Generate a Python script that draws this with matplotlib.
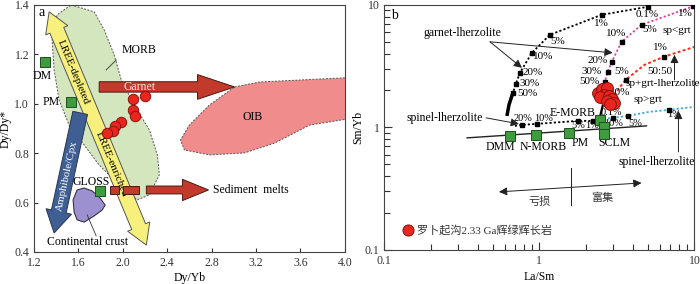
import numpy as np
import matplotlib
matplotlib.use('Agg')
import matplotlib.pyplot as plt
from matplotlib.patches import Polygon, FancyArrow
from matplotlib.ticker import NullFormatter

plt.rcParams['font.family'] = ['Liberation Serif', 'Noto Sans CJK SC']
plt.rcParams['font.size'] = 8.5
plt.rcParams['axes.linewidth'] = 0.8
plt.rcParams['axes.edgecolor'] = '#444444'

# ---------------- panel a data (Dy/Yb vs Dy/Dy*) ----------------
morb_x = [1.534, 1.742, 1.832, 1.922, 1.986, 2.103, 2.239, 2.311, 2.329, 2.239, 2.130,
          2.013, 1.787, 1.652, 1.516, 1.426, 1.381, 1.363, 1.408]
morb_y = [1.400, 1.372, 1.299, 1.198, 1.096, 0.995, 0.894, 0.793, 0.712, 0.631, 0.611,
          0.651, 0.752, 0.833, 0.914, 1.015, 1.137, 1.258, 1.360]
oib_x = [3.007, 3.233, 3.594, 4.05, 4.05, 3.684, 3.368, 3.097, 2.781, 2.555, 2.519, 2.600, 2.781]
oib_y = [1.068, 1.088, 1.096, 1.106, 0.940, 0.914, 0.841, 0.801, 0.793, 0.813, 0.853, 0.914, 0.995]
crust_x = [1.588, 1.652, 1.724, 1.787, 1.841, 1.814, 1.742, 1.652, 1.588, 1.561, 1.552]
crust_y = [0.651, 0.659, 0.647, 0.623, 0.590, 0.570, 0.546, 0.521, 0.530, 0.562, 0.611]

samp_a_x = [2.203, 2.094, 2.094, 2.112, 1.986, 1.932, 1.914, 1.859]
samp_a_y = [1.032, 1.019, 0.975, 0.951, 0.926, 0.910, 0.890, 0.882]

ref_a_names = ['DM', 'PM', 'GLOSS']
ref_a_x = [1.299, 1.534, 1.796]
ref_a_y = [1.169, 1.007, 0.647]

sed_x0 = [1.887, 2.004, 2.212]
sed_x1 = [1.968, 2.149, 2.537]
sed_y = 0.651

# ---------------- panel b data (La/Sm vs Sm/Yb) ----------------
grt_x = [0.618, 0.637, 0.675, 0.706, 0.749, 0.895, 1.168, 2.52, 4.99]
grt_y = [1.241, 1.527, 1.913, 2.265, 2.786, 4.056, 5.69, 8.29, 9.63]
grt_lab = ['50%', '30%', '20%', '10%', '5%', '1%', '0.1%']
grt_lab_x = [0.844, 0.869, 0.909, 1.053, 1.315, 2.52, 4.99]
grt_lab_y = [1.877, 2.265, 2.786, 3.763, 4.99, 7.0, 8.29]

sp_x = [0.696, 0.772, 0.964, 1.769, 2.208, 2.449]
sp_y = [1.028, 1.048, 1.068, 1.130, 1.130, 1.151]
sp_lab = ['20%', '10%', '5%', '1%']
sp_lab_x = [0.78, 1.06, 1.79, 2.19]
sp_lab_y = [1.173, 1.173, 1.045, 1.045]

pink_x = [2.56, 2.64, 2.76, 2.93, 3.39, 4.56, 9.8]
pink_y = [2.10, 2.35, 2.84, 3.43, 4.99, 6.87, 9.7]
pink_lab = ['50%', '30%', '20%', '10%', '5%', '1%']
pink_lab_x = [2.113, 2.176, 2.378, 3.15, 5.14, 8.75]
pink_lab_y = [2.35, 2.84, 3.49, 5.80, 6.25, 8.45]

red_x = [2.93, 3.20, 3.60, 4.77, 6.32, 10.0]
red_y = [1.677, 2.02, 2.44, 3.24, 3.76, 4.54]
red_sq = [2, 4]
red_lab = ['10%', '5%', '1%']
red_lab_x = [3.34, 3.39, 6.04]
red_lab_y = [1.912, 2.84, 4.46]

blue_x = [2.60, 2.97, 3.71, 5.14, 6.90, 10.0]
blue_y = [1.17, 1.196, 1.24, 1.34, 1.39, 1.47]
blue_sq = [1, 2, 4]
blue_lab = ['0.1%', '10%', '5%', '1%']
blue_lab_x = [2.90, 3.00, 4.15, 7.44]
blue_lab_y = [1.313, 1.085, 1.085, 1.265]

samp_b_x = [2.378, 2.523, 2.718, 2.599, 2.449, 2.799, 2.926, 2.718, 3.014, 2.841]
samp_b_y = [1.912, 2.062, 2.101, 1.842, 1.774, 1.807, 1.709, 1.646, 1.585, 1.555]

ref_b_x = [0.646, 0.949, 1.549, 2.449, 2.60, 2.60]
ref_b_y = [0.852, 0.869, 0.902, 1.151, 1.009, 0.885]
ref_b_names = ['DMM', 'N-MORB', 'PM', 'E-MORB', 'SCLM']
ref_b_lx = [0.557, 1.053, 1.822, 1.642, 3.06]
ref_b_ly = [0.693, 0.693, 0.747, 1.313, 0.747]

array_x = [0.342, 4.91]
array_y = [0.821, 1.028]

GREEN = '#3e9b3e'
REDC = '#e8261e'
ARROW_RED = '#c23a2b'


def fat_arrow(ax, p0, p1, shaft, head_w, head_l, both=False, **kw):
    # arrow polygon built in pixel space, then mapped back to data
    T = ax.transData
    a = np.array(T.transform(p0))
    b = np.array(T.transform(p1))
    u = (b - a) / np.hypot(*(b - a))
    n = np.array([-u[1], u[0]])
    s, h = shaft / 2, head_w / 2
    pts = []
    if both:
        pts += [a, a + u * head_l + n * h, a + u * head_l + n * s]
    else:
        pts += [a + n * s]
    pts += [b - u * head_l + n * s, b - u * head_l + n * h, b,
            b - u * head_l - n * h, b - u * head_l - n * s]
    if both:
        pts += [a + u * head_l - n * s, a + u * head_l - n * h]
    else:
        pts += [a - n * s]
    pts = T.inverted().transform(np.array(pts))
    ax.add_patch(Polygon(pts, closed=True, **kw))


fig = plt.figure(figsize=(7, 2.84), dpi=100)

# ================= panel a =================
ax = fig.add_axes([0.0486, 0.1127, 0.444, 0.870])
ax.set_xlim(1.2, 4.0)
ax.set_ylim(0.4, 1.4)
ax.set_xticks([1.2, 1.6, 2.0, 2.4, 2.8, 3.2, 3.6, 4.0])
ax.set_yticks([0.4, 0.6, 0.8, 1.0, 1.2, 1.4])
ax.set_xticklabels(['1.2', '1.6', '2.0', '2.4', '2.8', '3.2', '3.6', '4.0'])
ax.set_yticklabels(['0.4', '0.6', '0.8', '1.0', '1.2', '1.4'])
ax.tick_params(direction='in', length=3, width=0.8, labelsize=8.5, colors='#333333')
ax.set_xlabel('Dy/Yb', fontsize=8.5, labelpad=2)
ax.set_ylabel('Dy/Dy*', fontsize=8.5, labelpad=2)

ax.add_patch(Polygon(np.column_stack([morb_x, morb_y]), closed=True, fc='#d3e6bd',
                     ec='#555555', lw=0.7, ls=(0, (2, 1.5)), zorder=1))
ax.add_patch(Polygon(np.column_stack([oib_x, oib_y]), closed=True, fc='#f08c8c',
                     ec='#555555', lw=0.7, ls=(0, (2, 1.5)), zorder=1))
ax.add_patch(Polygon(np.column_stack([crust_x, crust_y]), closed=True, fc='#9d90d0',
                     ec='#333344', lw=0.8, zorder=2, joinstyle='round'))

# yellow double arrow and blue arrow
fat_arrow(ax, (1.336, 1.372), (2.212, 0.428), 15, 24, 20, both=True,
          fc='#f7f07c', ec='#555555', lw=0.7, zorder=3)
fat_arrow(ax, (1.616, 0.963), (1.381, 0.477), 15, 26, 22,
          fc='#3f5e93', ec='#2a3550', lw=0.7, zorder=3)
ax.text(1.552, 1.129, 'LREE-depleted', rotation=-67.4, ha='center', va='center',
        fontsize=8, zorder=4)
ax.text(1.896, 0.756, 'LREE-enriched', rotation=-67.4, ha='center', va='center',
        fontsize=8, zorder=4)
ax.text(1.498, 0.708, 'Amphibole/Cpx', rotation=77.8, ha='center', va='center',
        fontsize=8, color='white', zorder=4)

# garnet arrow
ax.add_patch(FancyArrow(1.787, 1.068, 3.007 - 1.787, 0, width=0.042, head_width=0.10,
                        head_length=0.334, length_includes_head=True,
                        fc=ARROW_RED, ec='#4a1810', lw=0.7, zorder=3))
ax.text(2.149, 1.068, 'Garnet', color='#ffe0e0', ha='center', va='center',
        fontsize=8.5, zorder=4)

# sediment melts arrow made of dashed blocks
for x0, x1 in zip(sed_x0, sed_x1):
    if x1 == sed_x1[-1]:
        ax.add_patch(FancyArrow(x0, sed_y, 2.772 - x0, 0, width=0.032, head_width=0.086,
                                head_length=0.235, length_includes_head=True,
                                fc=ARROW_RED, ec='#4a1810', lw=0.7, zorder=5))
    else:
        ax.add_patch(Polygon([[x0, sed_y - 0.016], [x1, sed_y - 0.016],
                              [x1, sed_y + 0.016], [x0, sed_y + 0.016]], closed=True,
                             fc=ARROW_RED, ec='#4a1810', lw=0.7, zorder=5))
ax.text(2.81, 0.651, 'Sediment  melts', ha='left', va='center', fontsize=8.5)

ax.plot(ref_a_x, ref_a_y, 's', ms=7, mfc=GREEN, mec='#1f4f1f', mew=0.7, zorder=6)
ax.text(1.272, 1.113, 'DM', ha='center', va='center')
ax.text(1.354, 1.007, 'PM', ha='center', va='center')
ax.text(1.715, 0.683, 'GLOSS', ha='center', va='center')

ax.plot(samp_a_x, samp_a_y, 'o', ms=7.5, mfc=REDC, mec='#8a1010', mew=0.7, zorder=7)

ax.text(2.149, 1.218, 'MORB', ha='center', va='center')
ax.plot([1.941, 1.850], [1.177, 1.137], color='#333333', lw=0.6, zorder=4)
ax.text(3.17, 0.946, 'OIB', ha='center', va='center')
ax.text(1.68, 0.4405, 'Continental crust', ha='center', va='center')
ax.plot([1.760, 1.679], [0.465, 0.550], color='#333333', lw=0.6, zorder=4)
ax.text(1.272, 1.368, 'a', ha='center', va='center', fontsize=10)

# ================= panel b =================
bx = fig.add_axes([0.549, 0.120, 0.443, 0.863])
bx.set_xscale('log')
bx.set_yscale('log')
bx.set_xlim(0.1, 10)
bx.set_ylim(0.1, 10)
bx.set_xticks([0.1, 1, 10])
bx.set_xticklabels(['0.1', '1', '10'])
bx.set_yticks([0.1, 1, 10])
bx.set_yticklabels(['0.1', '1', '10'])
bx.xaxis.set_minor_formatter(NullFormatter())
bx.yaxis.set_minor_formatter(NullFormatter())
bx.tick_params(which='both', direction='in', width=0.8, labelsize=8.5, colors='#333333')
bx.tick_params(which='major', length=6)
bx.tick_params(which='minor', length=4)
bx.set_xlabel('La/Sm', fontsize=8.5, labelpad=3)
bx.set_ylabel('Sm/Yb', fontsize=8.5, labelpad=0)

bx.plot(array_x, array_y, color='#222222', lw=1.0, zorder=2)

# melting curves
bx.plot(grt_x[:3], grt_y[:3], color='black', lw=2.5, zorder=3, solid_capstyle='butt')
bx.plot(grt_x, grt_y, color='black', lw=1.3, ls=(0, (1.2, 1.2)), zorder=3)
bx.plot(grt_x[2:], grt_y[2:], 's', color='black', ms=3, zorder=3)
for t, x, y in zip(grt_lab, grt_lab_x, grt_lab_y):
    bx.text(x, y, t, ha='center', va='center', fontsize=8)

bx.plot(sp_x, sp_y, color='black', lw=1.3, ls=(0, (1.2, 1.2)), zorder=3)
bx.plot(sp_x[1:5], sp_y[1:5], 's', color='black', ms=3, zorder=3)
for t, x, y in zip(sp_lab, sp_lab_x, sp_lab_y):
    bx.text(x, y, t, ha='center', va='center', fontsize=7.5)

bx.plot(pink_x, pink_y, color='#e23fa6', lw=1.3, ls=(0, (1.2, 1.2)), zorder=3)
bx.plot(pink_x[1:], pink_y[1:], 's', color='black', ms=3, zorder=3)
for t, x, y in zip(pink_lab, pink_lab_x, pink_lab_y):
    bx.text(x, y, t, ha='center', va='center', fontsize=8)
bx.text(7.66, 6.13, 'sp<grt', ha='center', va='center', fontsize=8)

bx.plot(red_x, red_y, color='#ff2a1a', lw=1.4, ls=(0, (1.5, 1.2)), zorder=3)
bx.plot([red_x[i] for i in red_sq], [red_y[i] for i in red_sq], 's', color='black',
        ms=3, zorder=3)
for t, x, y in zip(red_lab, red_lab_x, red_lab_y):
    bx.text(x, y, t, ha='center', va='center', fontsize=8)
bx.text(5.96, 2.84, '50:50', ha='center', va='center', fontsize=8)
bx.text(6.23, 2.265, 'sp+grt-lherzolite', ha='center', va='center', fontsize=8)
bx.text(4.99, 1.677, 'sp>grt', ha='center', va='center', fontsize=8)

bx.plot(blue_x, blue_y, color='#3aaae2', lw=1.3, ls=(0, (1.2, 1.2)), zorder=3)
bx.plot([blue_x[i] for i in blue_sq], [blue_y[i] for i in blue_sq], 's', color='black',
        ms=3, zorder=3)
for t, x, y in zip(blue_lab, blue_lab_x, blue_lab_y):
    bx.text(x, y, t, ha='center', va='center', fontsize=7.5)

# short solid link between E-MORB and the sample cluster
bx.plot([2.449, 2.60], [1.19, 1.62], color='black', lw=1.6, zorder=3)

bx.plot(ref_b_x, ref_b_y, 's', ms=7, mfc=GREEN, mec='#1f4f1f', mew=0.7, zorder=5)
for t, x, y in zip(ref_b_names, ref_b_lx, ref_b_ly):
    bx.text(x, y, t, ha='center', va='center', fontsize=8.5)

bx.plot(samp_b_x, samp_b_y, 'o', ms=8.5, mfc=REDC, mec='#8a1010', mew=0.7, zorder=6)

# labels with pointer arrows
ap = dict(arrowstyle='-|>', color='#222222', lw=0.7, mutation_scale=12, shrinkA=0, shrinkB=0)
bx.text(0.3174, 5.91, 'garnet-lherzolite', ha='center', va='center', fontsize=8.5)
bx.annotate('', xy=(0.772, 3.06), xytext=(0.4805, 4.99), arrowprops=ap)
bx.annotate('', xy=(2.97, 4.06), xytext=(0.4805, 4.99), arrowprops=ap)
bx.text(0.2468, 1.196, 'spinel-lherzolite', ha='center', va='center', fontsize=8.5)
bx.annotate('', xy=(0.738, 1.068), xytext=(0.453, 1.196), arrowprops=ap)
bx.annotate('', xy=(7.44, 3.91), xytext=(7.44, 2.44), arrowprops=ap)
bx.text(5.69, 0.523, 'spinel-lherzolite', ha='center', va='center', fontsize=8.5)
bx.annotate('', xy=(7.89, 1.364), xytext=(7.89, 0.631), arrowprops=ap)

# depleted / enriched arrow
bx.annotate('', xy=(0.549, 0.2976), xytext=(4.56, 0.352),
            arrowprops=dict(arrowstyle='<|-|>', color='#222222', lw=0.7,
                            mutation_scale=12, shrinkA=0, shrinkB=0))
bx.plot([1.595, 1.595], [0.233, 0.467], color='#222222', lw=0.7)
bx.text(1.007, 0.2465, '亏损', ha='center', va='center', fontsize=8,
        family=['Noto Sans CJK SC'], color='#333333')
bx.text(2.56, 0.2658, '富集', ha='center', va='center', fontsize=8,
        family=['Noto Sans CJK SC'], color='#333333')

# legend
bx.plot([0.1427], [0.1457], 'o', ms=8, mfc=REDC, mec='#8a1010', mew=0.7)
bx.text(0.163, 0.1457, '罗卜起沟2.33 Ga辉绿辉长岩', ha='left', va='center', fontsize=8,
        color='#333333')
bx.text(0.117, 8.2, 'b', ha='center', va='center', fontsize=10)

fig.savefig('out.png', dpi=100)
